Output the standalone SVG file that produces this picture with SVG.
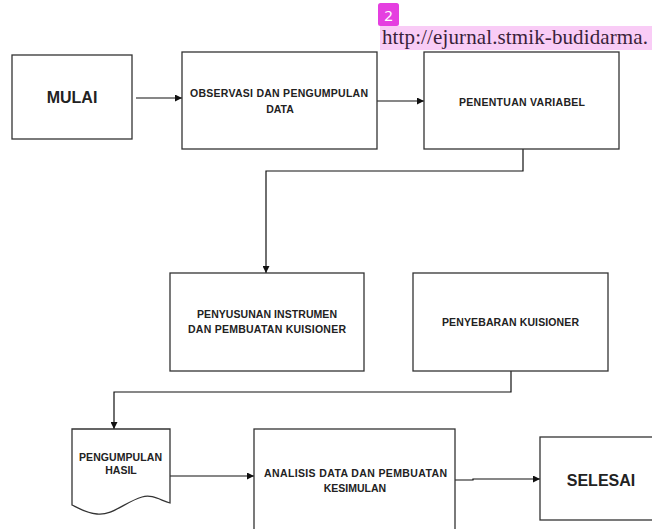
<svg xmlns="http://www.w3.org/2000/svg" width="652" height="529" viewBox="0 0 652 529">
<style>
.box{fill:#fff;stroke:#333;stroke-width:1.3}
.t{font-family:"Liberation Sans",Arial,sans-serif;font-weight:bold;font-size:10.5px;fill:#222;text-anchor:middle}
.big{font-size:16px}
.c{fill:none;stroke:#111;stroke-width:1.2}
</style>
<defs>
<marker id="ah" viewBox="0 0 10 10" refX="10" refY="5" markerWidth="7" markerHeight="7" markerUnits="userSpaceOnUse" orient="auto">
<path d="M0,0 L10,5 L0,10 z" fill="#111"/>
</marker>
</defs>
<rect width="652" height="529" fill="#fff"/>
<g id="header">
<rect x="380" y="26" width="272" height="24" fill="#f9ccf6"/>
<rect x="378" y="3" width="21" height="23" rx="2.5" fill="#e53fe0"/>
<text x="388.5" y="21" font-family="'Noto Sans','Liberation Sans',sans-serif" font-size="15" fill="#fff" text-anchor="middle">2</text>
<text x="382" y="44" font-family="'Liberation Serif','Times New Roman',serif" font-size="21" fill="#3a1f3a" textLength="266">http://ejurnal.stmik-budidarma.</text>
</g>
<g id="connectors">
<line class="c" x1="136" y1="98" x2="182" y2="98" marker-end="url(#ah)"/>
<line class="c" x1="377" y1="101" x2="424" y2="101" marker-end="url(#ah)"/>
<polyline class="c" points="523,149 523,171 266,171 266,273" marker-end="url(#ah)"/>
<polyline class="c" points="511,371 511,392 114,392 114,429" marker-end="url(#ah)"/>
<line class="c" x1="170" y1="476" x2="254" y2="476" marker-end="url(#ah)"/>
<polyline class="c" points="455,480 473,480 473,479 540,479" marker-end="url(#ah)"/>
</g>
<g id="mulai">
<rect class="box" x="12" y="55" width="120" height="84"/>
<text class="t big" x="72" y="103">MULAI</text>
</g>
<g id="observasi">
<rect class="box" x="182" y="52" width="195" height="97"/>
<text class="t" x="279" y="97" textLength="178">OBSERVASI DAN PENGUMPULAN</text>
<text class="t" x="280" y="113">DATA</text>
</g>
<g id="penentuan">
<rect class="box" x="424" y="52" width="195" height="97"/>
<text class="t" x="522" y="106" textLength="126">PENENTUAN VARIABEL</text>
</g>
<g id="penyusunan">
<rect class="box" x="170" y="273" width="194" height="98"/>
<text class="t" x="267" y="318" textLength="140">PENYUSUNAN INSTRUMEN</text>
<text class="t" x="267" y="333" textLength="158">DAN PEMBUATAN KUISIONER</text>
</g>
<g id="penyebaran">
<rect class="box" x="413" y="273" width="195" height="98"/>
<text class="t" x="510.5" y="326" textLength="137">PENYEBARAN KUISIONER</text>
</g>
<g id="pengumpulan">
<path class="box" d="M72,429 L170,429 L170,503 C160,500 152,494 142,497 C125,502 112,516 97,514 C86,513 78,508 72,505 Z"/>
<text class="t" x="120.5" y="461" textLength="83">PENGUMPULAN</text>
<text class="t" x="121" y="474">HASIL</text>
</g>
<g id="analisis">
<rect class="box" x="254" y="429" width="201" height="110"/>
<text class="t" x="355.5" y="477" textLength="183">ANALISIS DATA DAN PEMBUATAN</text>
<text class="t" x="355" y="492">KESIMULAN</text>
</g>
<g id="selesai">
<rect class="box" x="540" y="437" width="120" height="83"/>
<text class="t big" x="601" y="486">SELESAI</text>
</g>
</svg>
